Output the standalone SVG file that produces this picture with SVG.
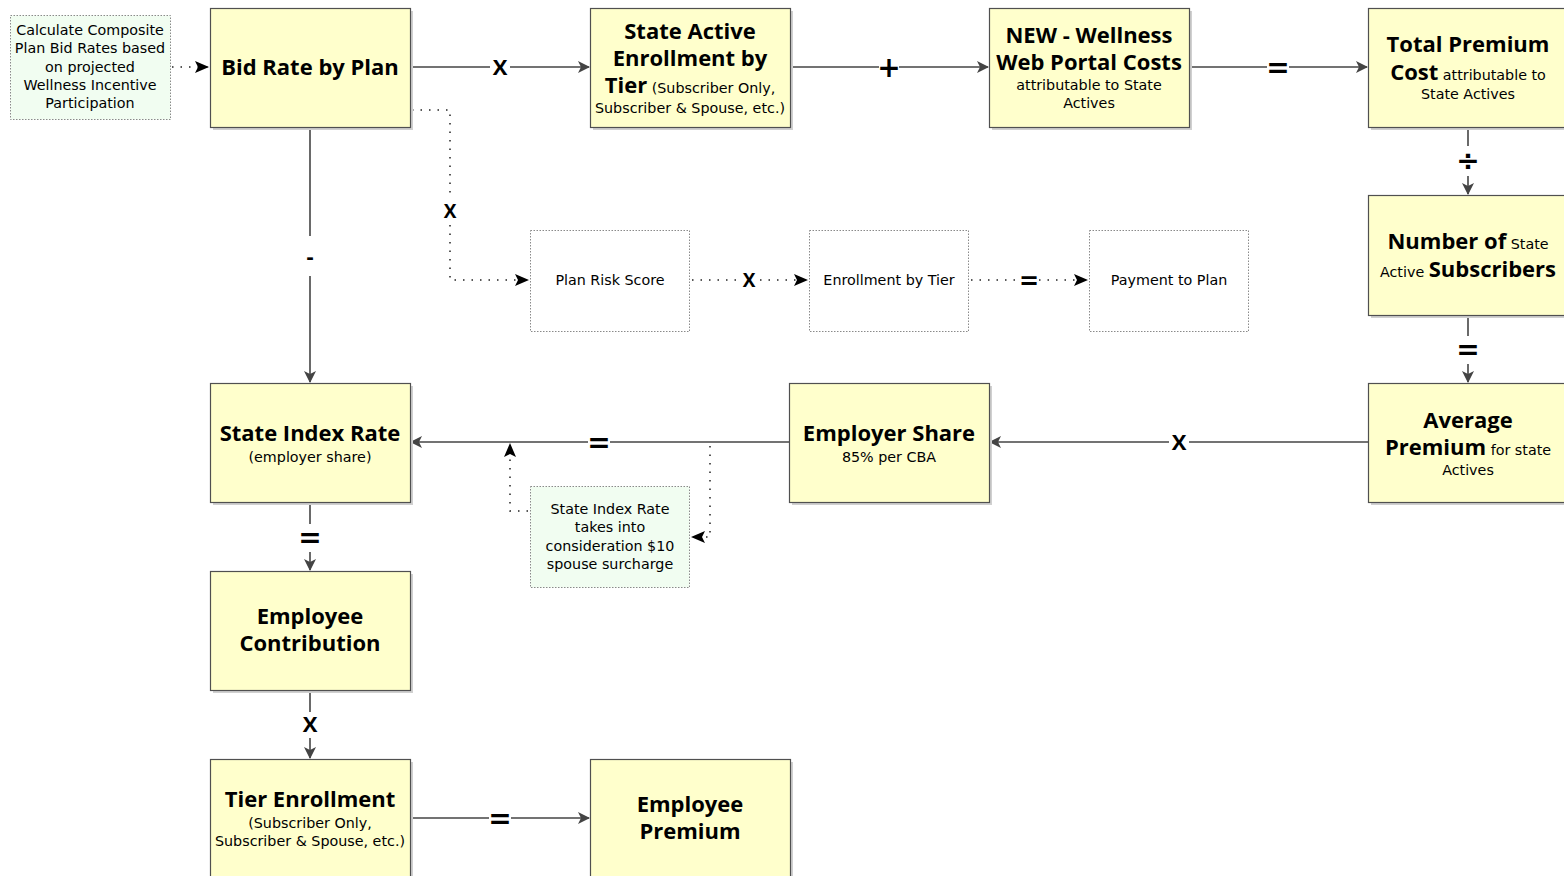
<svg xmlns="http://www.w3.org/2000/svg" width="1564" height="876" viewBox="0 0 1564 876">
<style>
.box{fill:#ffffcc;stroke:#505050;stroke-width:1.2}
.shd{fill:#d0d0d0}
.note{fill:#f1fdf1;stroke:#8a8a8a;stroke-width:1;stroke-dasharray:1.5 1.5}
.dbox{fill:#ffffff;stroke:#8a8a8a;stroke-width:1;stroke-dasharray:1.5 1.5}
.t{font-family:"Open Sans","Noto Sans",sans-serif;fill:#000;text-anchor:middle}
.b{font-family:"Open Sans","Noto Sans",sans-serif;font-weight:bold;font-size:22px}
.s{font-family:"DejaVu Sans","Noto Sans",sans-serif;font-weight:normal;font-size:14.3px}
.n{font-family:"DejaVu Sans","Noto Sans",sans-serif;font-size:14.3px}
.ln{stroke:#444;stroke-width:1.6;fill:none}
.dl{stroke:#222;stroke-width:1.5;fill:none;stroke-dasharray:1.5 7}
.op{font-family:"Open Sans","Noto Sans",sans-serif;font-weight:bold;font-size:22px;text-anchor:middle;fill:#000}
.big{font-family:"DejaVu Sans",sans-serif;font-size:28px}
.bg{fill:#fff}
</style>
<defs>
<marker id="ar" markerWidth="12" markerHeight="12" refX="11" refY="6" orient="auto" markerUnits="userSpaceOnUse">
<path d="M0,0 L12,6 L0,12 L3,6 Z" fill="#444"/>
</marker>
<marker id="ad" markerWidth="14" markerHeight="12" refX="13" refY="6" orient="auto" markerUnits="userSpaceOnUse">
<path d="M0,0 L14,6 L0,12 L3,6 Z" fill="#000"/>
</marker>
</defs>
<rect width="1564" height="876" fill="#fff"/>

<g id="connectors">
<line class="dl" x1="172" y1="67" x2="208" y2="67" marker-end="url(#ad)"/>
<line class="ln" x1="410" y1="67" x2="589" y2="67" marker-end="url(#ar)"/>
<line class="ln" x1="790" y1="67" x2="988" y2="67" marker-end="url(#ar)"/>
<line class="ln" x1="1189" y1="67" x2="1367" y2="67" marker-end="url(#ar)"/>
<line class="ln" x1="1468" y1="127" x2="1468" y2="194" marker-end="url(#ar)"/>
<line class="ln" x1="1468" y1="315" x2="1468" y2="382" marker-end="url(#ar)"/>
<line class="ln" x1="1368" y1="442" x2="990" y2="442" marker-end="url(#ar)"/>
<line class="ln" x1="789" y1="442" x2="411" y2="442" marker-end="url(#ar)"/>
<line class="ln" x1="310" y1="127" x2="310" y2="382" marker-end="url(#ar)"/>
<line class="ln" x1="310" y1="502" x2="310" y2="570" marker-end="url(#ar)"/>
<line class="ln" x1="310" y1="690" x2="310" y2="758" marker-end="url(#ar)"/>
<line class="ln" x1="410" y1="818" x2="589" y2="818" marker-end="url(#ar)"/>
<polyline class="dl" points="412,110 450,110 450,280 528,280" marker-end="url(#ad)"/>
<line class="dl" x1="692" y1="280" x2="807" y2="280" marker-end="url(#ad)"/>
<line class="dl" x1="971" y1="280" x2="1087" y2="280" marker-end="url(#ad)"/>
<polyline class="dl" points="710,446 710,537 692,537" marker-end="url(#ad)"/>
<polyline class="dl" points="528,511 510,511 510,444" marker-end="url(#ad)"/>

<rect class="bg" x="490" y="56" width="20" height="22"/><text class="op" x="500" y="75">X</text>
<rect class="bg" x="879" y="54" width="20" height="26"/><text class="op big" x="889" y="77">+</text>
<rect class="bg" x="1267" y="56" width="22" height="22"/><text class="op big" x="1278" y="77">=</text>
<rect class="bg" x="1458" y="146" width="20" height="30"/><text class="op big" x="1468" y="170">÷</text>
<rect class="bg" x="1457" y="336" width="22" height="28"/><text class="op big" x="1468" y="359">=</text>
<rect class="bg" x="1169" y="431" width="20" height="22"/><text class="op" x="1179" y="450">X</text>
<rect class="bg" x="588" y="431" width="22" height="22"/><text class="op big" x="599" y="452">=</text>
<rect class="bg" x="300" y="236" width="20" height="40"/><text class="op" x="310" y="264">-</text>
<rect class="bg" x="299" y="524" width="22" height="28"/><text class="op big" x="310" y="547">=</text>
<rect class="bg" x="300" y="712" width="20" height="26"/><text class="op" x="310" y="732">X</text>
<rect class="bg" x="489" y="807" width="22" height="22"/><text class="op big" x="500" y="828">=</text>
<rect class="bg" x="440" y="199" width="20" height="24"/><text class="op" x="450" y="218" style="font-size:19px">X</text>
<rect class="bg" x="740" y="270" width="18" height="20"/><text class="op" x="749" y="287" style="font-size:19px">X</text>
<rect class="bg" x="1019" y="270" width="20" height="20"/><text class="op big" x="1029" y="289" style="font-size:24px">=</text>
</g>

<g id="note1">
<rect class="note" x="10.5" y="15.5" width="160" height="104"/>
<text class="t n" x="90" y="35">Calculate Composite</text>
<text class="t n" x="90" y="53">Plan Bid Rates based</text>
<text class="t n" x="90" y="72">on projected</text>
<text class="t n" x="90" y="90">Wellness Incentive</text>
<text class="t n" x="90" y="108">Participation</text>
</g>

<g id="bidRate">
<rect class="shd" x="213" y="11" width="200" height="119"/>
<rect class="box" x="210.5" y="8.5" width="200" height="119"/>
<text class="t b" x="310" y="75">Bid Rate by Plan</text>
</g>

<g id="stateActiveEnrollment">
<rect class="shd" x="593" y="11" width="200" height="119"/>
<rect class="box" x="590.5" y="8.5" width="200" height="119"/>
<text class="t b" x="690" y="39">State Active</text>
<text class="t b" x="690" y="66">Enrollment by</text>
<text class="t" x="690" y="93"><tspan class="b">Tier</tspan><tspan class="s"> (Subscriber Only,</tspan></text>
<text class="t s" x="690" y="113">Subscriber &amp; Spouse, etc.)</text>
</g>

<g id="wellnessPortal">
<rect class="shd" x="992" y="11" width="200" height="119"/>
<rect class="box" x="989.5" y="8.5" width="200" height="119"/>
<text class="t b" x="1089" y="43">NEW - Wellness</text>
<text class="t b" x="1089" y="70">Web Portal Costs</text>
<text class="t s" x="1089" y="90">attributable to State</text>
<text class="t s" x="1089" y="108">Actives</text>
</g>

<g id="totalPremium">
<rect class="shd" x="1371" y="11" width="200" height="119"/>
<rect class="box" x="1368.5" y="8.5" width="200" height="119"/>
<text class="t b" x="1468" y="52">Total Premium</text>
<text class="t" x="1468" y="80"><tspan class="b">Cost</tspan><tspan class="s"> attributable to</tspan></text>
<text class="t s" x="1468" y="99">State Actives</text>
</g>

<g id="numberSubscribers">
<rect class="shd" x="1371" y="198" width="200" height="120"/>
<rect class="box" x="1368.5" y="195.5" width="200" height="120"/>
<text class="t" x="1468" y="249"><tspan class="b">Number of</tspan><tspan class="s"> State</tspan></text>
<text class="t" x="1468" y="277"><tspan class="s">Active </tspan><tspan class="b">Subscribers</tspan></text>
</g>

<g id="averagePremium">
<rect class="shd" x="1371" y="386" width="200" height="119"/>
<rect class="box" x="1368.5" y="383.5" width="200" height="119"/>
<text class="t b" x="1468" y="428">Average</text>
<text class="t" x="1468" y="455"><tspan class="b">Premium</tspan><tspan class="s"> for state</tspan></text>
<text class="t s" x="1468" y="475">Actives</text>
</g>

<g id="employerShare">
<rect class="shd" x="792" y="386" width="200" height="119"/>
<rect class="box" x="789.5" y="383.5" width="200" height="119"/>
<text class="t b" x="889" y="441">Employer Share</text>
<text class="t s" x="889" y="462">85% per CBA</text>
</g>

<g id="stateIndexRate">
<rect class="shd" x="213" y="386" width="200" height="119"/>
<rect class="box" x="210.5" y="383.5" width="200" height="119"/>
<text class="t b" x="310" y="441">State Index Rate</text>
<text class="t s" x="310" y="462">(employer share)</text>
</g>

<g id="employeeContribution">
<rect class="shd" x="213" y="574" width="200" height="119"/>
<rect class="box" x="210.5" y="571.5" width="200" height="119"/>
<text class="t b" x="310" y="624">Employee</text>
<text class="t b" x="310" y="651">Contribution</text>
</g>

<g id="tierEnrollment">
<rect class="shd" x="213" y="762" width="200" height="119"/>
<rect class="box" x="210.5" y="759.5" width="200" height="119"/>
<text class="t b" x="310" y="807">Tier Enrollment</text>
<text class="t s" x="310" y="828">(Subscriber Only,</text>
<text class="t s" x="310" y="846">Subscriber &amp; Spouse, etc.)</text>
</g>

<g id="employeePremium">
<rect class="shd" x="593" y="762" width="200" height="119"/>
<rect class="box" x="590.5" y="759.5" width="200" height="119"/>
<text class="t b" x="690" y="812">Employee</text>
<text class="t b" x="690" y="839">Premium</text>
</g>

<g id="planRiskScore">
<rect class="dbox" x="530.5" y="230.5" width="159" height="101"/>
<text class="t n" x="610" y="285">Plan Risk Score</text>
</g>

<g id="enrollmentByTier">
<rect class="dbox" x="809.5" y="230.5" width="159" height="101"/>
<text class="t n" x="889" y="285">Enrollment by Tier</text>
</g>

<g id="paymentToPlan">
<rect class="dbox" x="1089.5" y="230.5" width="159" height="101"/>
<text class="t n" x="1169" y="285">Payment to Plan</text>
</g>

<g id="note2">
<rect class="note" x="530.5" y="486.5" width="159" height="101"/>
<text class="t n" x="610" y="514">State Index Rate</text>
<text class="t n" x="610" y="532">takes into</text>
<text class="t n" x="610" y="551">consideration $10</text>
<text class="t n" x="610" y="569">spouse surcharge</text>
</g>
</svg>
